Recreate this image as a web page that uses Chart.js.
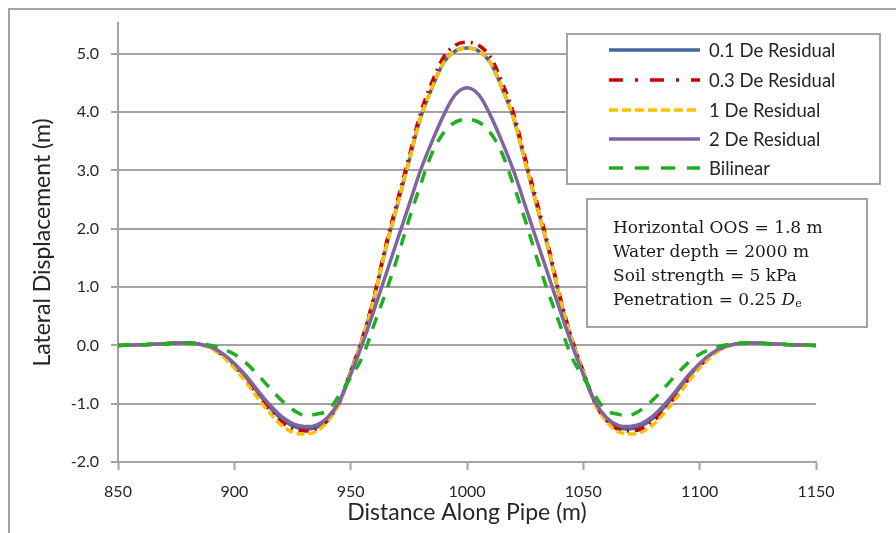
<!DOCTYPE html>
<html>
<head>
<meta charset="utf-8">
<script src="https://cdn.jsdelivr.net/npm/chart.js@4.4.0/dist/chart.umd.min.js"></script>
<style>
  html, body { margin: 0; padding: 0; background: #fff; }
</style>
</head>
<body>
<canvas id="grafica" width="896" height="533"></canvas>
<script>
// distance along pipe (m), every 5 m
let distance = [850, 855, 860, 865, 870, 875, 880, 885, 890, 895, 900, 905, 910, 915, 920, 925, 930, 935, 940, 945,
  950, 955, 960, 965, 970, 975, 980, 985, 990, 995, 1000, 1005, 1010, 1015, 1020, 1025, 1030, 1035, 1040, 1045,
  1050, 1055, 1060, 1065, 1070, 1075, 1080, 1085, 1090, 1095, 1100, 1105, 1110, 1115, 1120, 1125, 1130, 1135, 1140, 1145, 1150];

// lateral displacement (m)
let res01 = [0, 0.005, 0.01, 0.02, 0.03, 0.04, 0.04, 0.02, -0.03, -0.15, -0.33, -0.55, -0.8, -1.05, -1.25, -1.38, -1.43, -1.41, -1.27, -0.98,
  -0.45, 0.1, 0.8, 1.65, 2.4, 3.15, 3.9, 4.42, 4.85, 5.05, 5.1, 5.05, 4.85, 4.42, 3.9, 3.15, 2.4, 1.65, 0.8, 0.1,
  -0.45, -0.98, -1.27, -1.41, -1.43, -1.38, -1.25, -1.05, -0.8, -0.55, -0.33, -0.15, -0.03, 0.02, 0.04, 0.04, 0.03, 0.02, 0.01, 0.005, 0];
let res03 = [0, 0.005, 0.01, 0.02, 0.03, 0.04, 0.04, 0.02, -0.04, -0.17, -0.36, -0.59, -0.85, -1.1, -1.3, -1.43, -1.47, -1.44, -1.29, -0.99,
  -0.45, 0.12, 0.84, 1.7, 2.47, 3.22, 3.98, 4.52, 4.95, 5.15, 5.2, 5.15, 4.95, 4.52, 3.98, 3.22, 2.47, 1.7, 0.84, 0.12,
  -0.45, -0.99, -1.29, -1.44, -1.47, -1.43, -1.3, -1.1, -0.85, -0.59, -0.36, -0.17, -0.04, 0.02, 0.04, 0.04, 0.03, 0.02, 0.01, 0.005, 0];
let res1 = [0, 0.005, 0.01, 0.02, 0.03, 0.04, 0.04, 0.01, -0.05, -0.19, -0.39, -0.63, -0.9, -1.15, -1.36, -1.49, -1.52, -1.48, -1.31, -1.0,
  -0.46, 0.1, 0.8, 1.65, 2.4, 3.15, 3.9, 4.42, 4.85, 5.05, 5.1, 5.05, 4.85, 4.42, 3.9, 3.15, 2.4, 1.65, 0.8, 0.1,
  -0.46, -1.0, -1.31, -1.48, -1.52, -1.49, -1.36, -1.15, -0.9, -0.63, -0.39, -0.19, -0.05, 0.01, 0.04, 0.04, 0.03, 0.02, 0.01, 0.005, 0];
let res2 = [0, 0.005, 0.01, 0.02, 0.03, 0.04, 0.04, 0.02, -0.03, -0.14, -0.31, -0.52, -0.77, -1.01, -1.21, -1.34, -1.39, -1.37, -1.24, -0.97,
  -0.5, 0.02, 0.6, 1.2, 1.8, 2.4, 3.0, 3.5, 3.95, 4.3, 4.42, 4.3, 3.95, 3.5, 3.0, 2.4, 1.8, 1.2, 0.6, 0.02,
  -0.5, -0.97, -1.24, -1.37, -1.39, -1.34, -1.21, -1.01, -0.77, -0.52, -0.31, -0.14, -0.03, 0.02, 0.04, 0.04, 0.03, 0.02, 0.01, 0.005, 0];
let bilinear = [0, 0.005, 0.01, 0.02, 0.03, 0.04, 0.045, 0.03, 0.0, -0.06, -0.15, -0.3, -0.5, -0.72, -0.93, -1.1, -1.2, -1.18, -1.12, -0.86,
  -0.55, -0.2, 0.35, 0.9, 1.5, 2.15, 2.75, 3.3, 3.65, 3.83, 3.88, 3.83, 3.65, 3.3, 2.75, 2.15, 1.5, 0.9, 0.35, -0.2,
  -0.55, -0.86, -1.12, -1.18, -1.2, -1.1, -0.93, -0.72, -0.5, -0.3, -0.15, -0.06, 0.0, 0.03, 0.045, 0.04, 0.03, 0.02, 0.01, 0.005, 0];

let seriesNames = ["0.1 De Residual", "0.3 De Residual", "1 De Residual", "2 De Residual", "Bilinear"];
let yTicks = [-2, -1, 0, 1, 2, 3, 4, 5];
let noteLines = ["Horizontal OOS = 1.8 m", "Water depth = 2000 m", "Soil strength = 5 kPa", "Penetration = 0.25 "];

function puntos(ys) {
  return distance.map((d, i) => ({ x: d, y: ys[i] }));
}

let gris = '#a3a3a3';

// legend box + note box + outer frame
let cajas = {
  id: 'cajas',
  afterDraw(chart) {
    let ctx = chart.ctx;
    ctx.save();
    ctx.strokeStyle = gris;
    ctx.lineWidth = 2;
    // outer frame (left and top visible)
    ctx.beginPath();
    ctx.moveTo(9, 540); ctx.lineTo(9, 9); ctx.lineTo(900, 9);
    ctx.stroke();

    // legend
    ctx.fillStyle = '#fff';
    ctx.fillRect(567, 34, 313, 150);
    ctx.strokeRect(567, 34, 313, 150);
    let rowY = [50, 80, 110, 139, 168];
    chart.data.datasets.forEach((ds, i) => {
      ctx.strokeStyle = ds.borderColor;
      ctx.lineWidth = 3.5;
      ctx.setLineDash(ds.legendDash || []);
      ctx.beginPath();
      ctx.moveTo(609, rowY[i]);
      ctx.lineTo(700, rowY[i]);
      ctx.stroke();
      ctx.setLineDash([]);
      ctx.fillStyle = '#262626';
      ctx.font = '18.5px Lato';
      ctx.textBaseline = 'middle';
      ctx.textAlign = 'left';
      ctx.fillText(ds.label, 709, rowY[i] + 1);
    });

    // note box
    ctx.strokeStyle = gris;
    ctx.lineWidth = 2;
    ctx.fillStyle = '#fff';
    ctx.fillRect(587, 199, 280, 128);
    ctx.strokeRect(587, 199, 280, 128);
    ctx.fillStyle = '#1a1a1a';
    ctx.font = '17px "DejaVu Serif"';
    ctx.textBaseline = 'alphabetic';
    let base = [233, 257, 281, 305];
    noteLines.forEach((t, i) => ctx.fillText(t, 613, base[i]));
    let w = ctx.measureText(noteLines[3]).width;
    ctx.font = 'italic 17px "DejaVu Serif"';
    ctx.fillText('D', 613 + w, base[3]);
    let wd = ctx.measureText('D').width;
    ctx.font = '11px "DejaVu Serif"';
    ctx.fillText('e', 613 + w + wd, base[3] + 2);
    ctx.restore();
  }
};

let contexto = document.getElementById('grafica').getContext('2d');
let opciones = {
  type: 'line',
  data: {
    datasets: [
      { label: seriesNames[0], data: puntos(res01), borderColor: '#41679c', order: 5 },
      { label: seriesNames[1], data: puntos(res03), borderColor: '#cc0000', borderDash: [10, 6, 2, 6], legendDash: [14, 12, 3, 12], order: 4 },
      { label: seriesNames[2], data: puntos(res1), borderColor: '#ffc000', borderDash: [8, 4], legendDash: [9, 4], order: 3 },
      { label: seriesNames[3], data: puntos(res2), borderColor: '#8064a2', order: 2 },
      { label: seriesNames[4], data: puntos(bilinear), borderColor: '#1fb01f', borderDash: [12, 10], legendDash: [14, 12], order: 1 }
    ]
  },
  options: {
    responsive: false,
    animation: false,
    layout: { padding: { left: 9, right: 80, top: 23, bottom: 0 } },
    plugins: { legend: { display: false }, tooltip: { enabled: false } },
    elements: {
      point: { radius: 0 },
      line: { borderWidth: 3.5, tension: 0.35, fill: false }
    },
    scales: {
      x: {
        type: 'linear', min: 850, max: 1150,
        ticks: { stepSize: 50, padding: 12, color: '#262626', font: { family: 'Lato', size: 16 }, callback: v => String(v) },
        grid: { drawOnChartArea: false, drawTicks: true, tickLength: 8, tickColor: gris, tickWidth: 2 },
        border: { color: gris, width: 2 },
        title: { display: true, text: 'Distance Along Pipe (m)', color: '#262626', font: { family: 'Lato', size: 23 }, padding: { top: 0, bottom: 7 } },
        afterFit(s) { s.height = 71; }
      },
      y: {
        type: 'linear', min: -2, max: 5.53,
        afterBuildTicks(s) { s.ticks = yTicks.map(v => ({ value: v })); },
        ticks: { padding: 12, color: '#262626', font: { family: 'Lato', size: 16 }, callback: v => v.toFixed(1) },
        grid: { color: gris, lineWidth: 2, tickLength: 7, tickColor: gris, tickWidth: 2 },
        border: { color: gris, width: 2 },
        title: { display: true, text: 'Lateral Displacement (m)', color: '#262626', font: { family: 'Lato', size: 23 }, padding: { top: 20, bottom: 0 } },
        afterFit(s) { s.width = 109; }
      }
    }
  },
  plugins: [cajas]
};

let grafica = new Chart(contexto, opciones);
</script>
</body>
</html>
